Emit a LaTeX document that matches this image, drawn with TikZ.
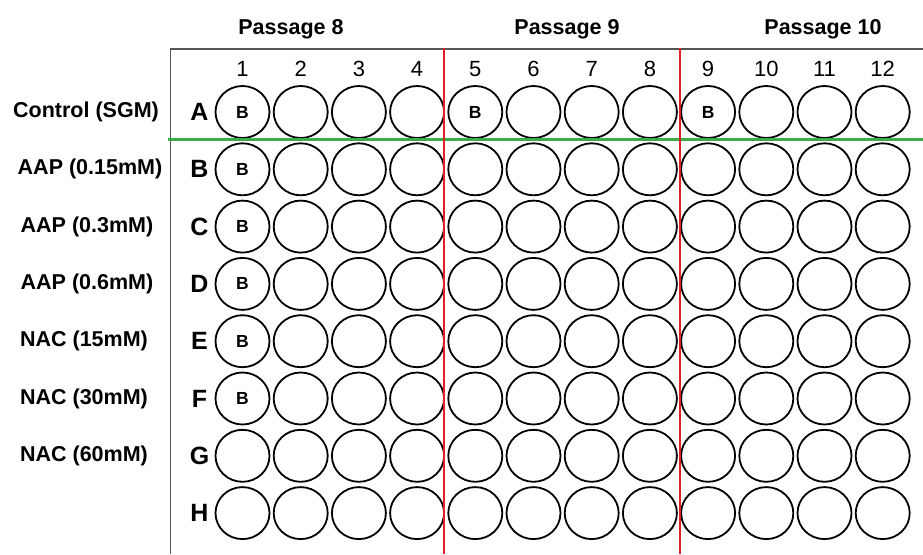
\documentclass[tikz,border=0pt]{standalone}
\usepackage{fontspec}
\setmainfont{Liberation Sans}
\usetikzlibrary{shapes.geometric,positioning}
\definecolor{divred}{RGB}{222,32,40}
\definecolor{rowgreen}{RGB}{58,172,72}
\definecolor{framegray}{RGB}{85,85,85}

\begin{document}
\begin{tikzpicture}[
    x=1pt, y=-1pt,
    well/.style={ellipse, draw=black, line width=1.8pt, minimum width=54pt, minimum height=52pt, inner sep=0pt},
    wellmark/.style={font=\fontsize{17.5}{20}\selectfont\bfseries, inner sep=0pt},
    rowlbl/.style={font=\fontsize{25}{28}\selectfont\bfseries, inner sep=0pt},
    collbl/.style={font=\fontsize{22}{25}\selectfont, inner sep=0pt},
    grplbl/.style={font=\fontsize{21.5}{25}\selectfont\bfseries, inner sep=0pt},
    passlbl/.style={font=\fontsize{21.5}{25}\selectfont\bfseries, inner sep=0pt, anchor=base},
    divline/.style={divred, line width=2.5pt}
]
\useasboundingbox (0,0) rectangle (923,554);
% plate frame
\draw[framegray, line width=1.8pt] (923,49) -- (170.5,49) -- (170.5,554);
% passages
\node[passlbl] (p8) at (291,34) {Passage 8};
\node[passlbl] (p9) at (567,34) {Passage 9};
\node[passlbl] (p10) at (823,34) {Passage 10};
% column numbers
\foreach \c in {1,...,12}
    \node[collbl] (col-\c) at (242.5+58.2*\c-58.2, 69) {\c};
% rows and wells
\foreach \r [count=\i from 0] in {A,B,C,D,E,F,G,H} {
    \node[rowlbl] (row-\r) at (199.5, 112+57.3*\i) {\r};
    \foreach \c in {1,...,12}
        \node[well] (w-\r-\c) at (242.5+58.2*\c-58.2, 112+57.3*\i) {};
}
\foreach \w in {A-1,A-5,A-9,B-1,C-1,D-1,E-1,F-1}
    \node[wellmark] at (w-\w) {B};
% treatment groups
\node[grplbl] (g1) at (86,112) {Control (SGM)};
\node[grplbl] (g2) at (90,169.3) {AAP (0.15mM)};
\node[grplbl] (g3) at (87,226.6) {AAP (0.3mM)};
\node[grplbl] (g4) at (87,283.9) {AAP (0.6mM)};
\node[grplbl] (g5) at (84,341.2) {NAC (15mM)};
\node[grplbl] (g6) at (84,398.5) {NAC (30mM)};
\node[grplbl] (g7) at (84,455.8) {NAC (60mM)};
% dividers
\draw[rowgreen, line width=2.4pt] (168,139.5) -- (923,139.5);
\draw[divline] (444,48) -- (444,554);
\draw[divline] (680,48) -- (680,554);
\end{tikzpicture}
\end{document}
